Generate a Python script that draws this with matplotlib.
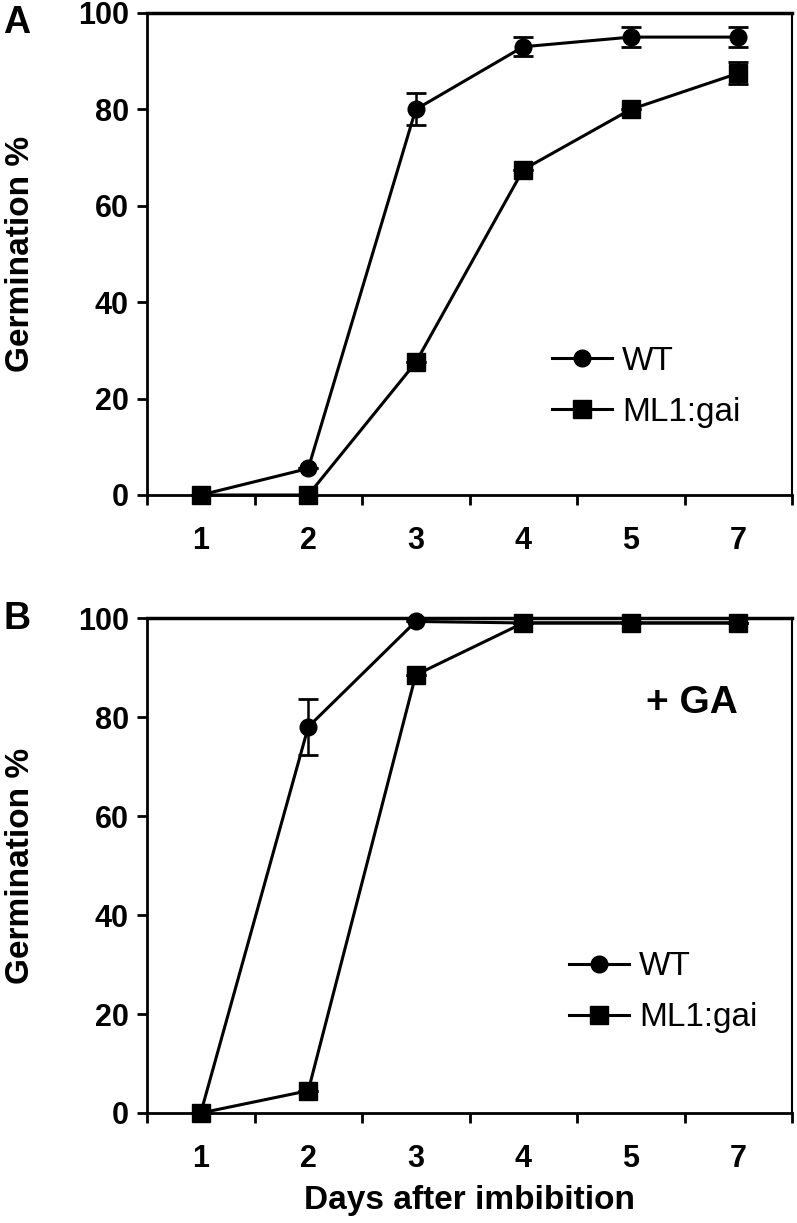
import matplotlib
matplotlib.use("Agg")
import matplotlib.pyplot as plt
import numpy as np

plt.rcParams['font.family'] = ['Liberation Sans', 'DejaVu Sans']

days = ["1", "2", "3", "4", "5", "7"]

# panel A (no GA)
wt_a = [0, 5.5, 80, 93, 95, 95]
wt_a_err = [0, 0, 3.3, 2, 2, 2]
gai_a = [0, 0, 27.5, 67.5, 80, 87.5]
gai_a_err = [0, 0, 0, 0, 0, 2.3]

# panel B (+ GA)
wt_b = [0, 78, 99.3, 99, 99, 99]
wt_b_err = [0, 5.7, 0, 0, 0, 0]
gai_b = [0, 4.5, 88.5, 99, 99, 99]
gai_b_err = [0, 0, 0, 0, 0, 0]

W, H = 797, 1223
fig = plt.figure(figsize=(W / 100, H / 100), dpi=100)

left = 147 / W
width = (792 - 147) / W
ax_a = fig.add_axes([left, 1 - 495 / H, width, (495 - 13) / H])
ax_b = fig.add_axes([left, 1 - 1113 / H, width, (1113 - 618) / H])

x = np.arange(len(days))


def draw_panel(ax, wt, wt_err, gai, gai_err, leg_pos):
    ax.errorbar(x, wt, yerr=wt_err, color='black', lw=2.2, marker='o', ms=12,
                capsize=7, capthick=2, elinewidth=1.8, label='WT',
                clip_on=False, zorder=4)
    ax.errorbar(x, gai, yerr=gai_err, color='black', lw=2.2, marker='s', ms=13,
                capsize=7, capthick=2, elinewidth=1.8, label='ML1:gai',
                clip_on=False, zorder=4)
    ax.set_xlim(-0.5, len(days) - 0.5)
    ax.set_ylim(0, 100)
    ax.set_yticks(range(0, 101, 20))
    ax.set_xticks(x)
    ax.set_xticklabels(days)
    ax.set_xticks(np.arange(-0.5, len(days), 1.0), minor=True)
    ax.tick_params(axis='x', which='major', length=0, pad=22, labelsize=22)
    ax.tick_params(axis='x', which='minor', length=7, width=2, direction='out')
    ax.tick_params(axis='y', length=7, width=2, direction='out', pad=6, labelsize=22)
    for lab in ax.get_xticklabels() + ax.get_yticklabels():
        lab.set_fontweight('bold')
    for sp in ax.spines.values():
        sp.set_linewidth(2)
    ax.spines['top'].set_linewidth(2.5)
    ax.spines['right'].set_linewidth(1.5)
    ax.set_ylabel('Germination %', fontsize=24, fontweight='bold')
    ax.yaxis.set_label_coords(-0.172, 0.5)
    handles, labels = ax.get_legend_handles_labels()
    handles = [h[0] for h in handles]
    ax.legend(handles, labels, loc='center left', bbox_to_anchor=leg_pos,
              frameon=False, fontsize=24, handlelength=1.8, handletextpad=0.3,
              labelspacing=0.6, borderpad=0, borderaxespad=0, markerscale=1.0)


draw_panel(ax_a, wt_a, wt_a_err, gai_a, gai_a_err, (0.628, 0.224))
draw_panel(ax_b, wt_b, wt_b_err, gai_b, gai_b_err, (0.654, 0.244))

ax_b.text((692 - 147) / 645, (1113 - 703) / 495, '+ GA', transform=ax_b.transAxes,
          fontsize=28, fontweight='bold', ha='center', va='center')
ax_b.set_xlabel('Days after imbibition', fontsize=24, fontweight='bold', labelpad=8)

fig.text(3 / W, 1 - 5 / H, 'A', fontsize=27, fontweight='bold', ha='left', va='top')
fig.text(3 / W, 1 - 601 / H, 'B', fontsize=27, fontweight='bold', ha='left', va='top')

fig.savefig('out.png', dpi=100)
